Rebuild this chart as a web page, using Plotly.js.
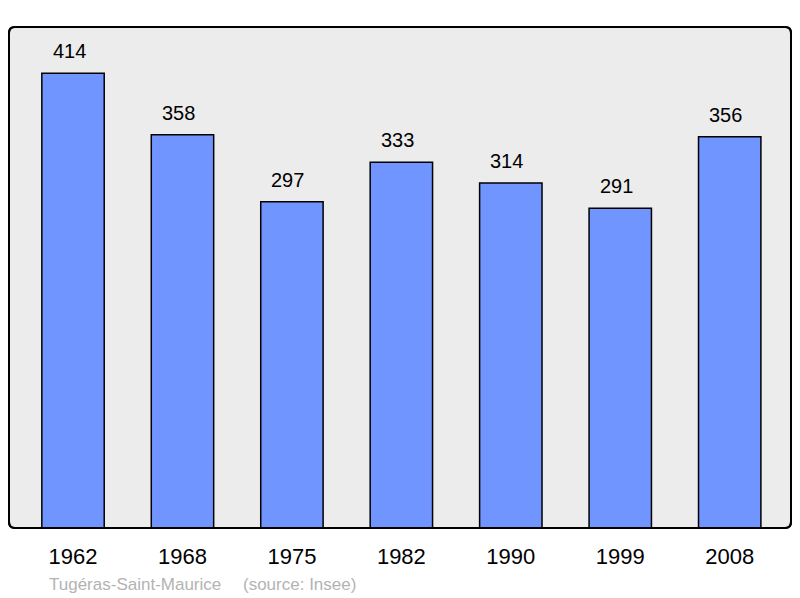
<!DOCTYPE html>
<html>
<head>
<meta charset="utf-8">
<script src="https://cdn.plot.ly/plotly-3.0.1.min.js"></script>
<style>html,body{margin:0;padding:0;background:#fff;}#chart{width:800px;height:598px;}</style>
</head>
<body>
<div id="chart"></div>
<script>
const years = ["1962", "1968", "1975", "1982", "1990", "1999", "2008"];
const population = [414, 358, 297, 333, 314, 291, 356];
const commune = "Tugéras-Saint-Maurice";
const source = "(source: Insee)";

const trace = {
  type: "bar",
  x: years,
  y: population,
  width: 0.57,
  marker: {color: "#7195ff", line: {color: "#000", width: 1.5}},
  hoverinfo: "none"
};

const valueLabels = years.map((yr, i) => ({
  x: i, y: population[i], xref: "x", yref: "y",
  text: String(population[i]), showarrow: false,
  yanchor: "bottom", yshift: 9, xshift: -4,
  font: {family: "Liberation Sans, Arial, sans-serif", size: 20, color: "#000"}
}));

const r = 6, W = 782, H = 501;
const rx = r / W, ry = r / H;
const borderPath = `M ${rx} 0 L ${1 - rx} 0 Q 1 0 1 ${ry} L 1 ${1 - ry} Q 1 1 ${1 - rx} 1 L ${rx} 1 Q 0 1 0 ${1 - ry} L 0 ${ry} Q 0 0 ${rx} 0 Z`;

const layout = {
  width: 800, height: 598,
  margin: {l: 9, r: 9, t: 27, b: 70},
  paper_bgcolor: "#fff",
  plot_bgcolor: "rgba(0,0,0,0)",
  showlegend: false,
  xaxis: {
    type: "category", range: [-0.585, 6.56],
    showgrid: false, zeroline: false, showline: false, ticks: "",
    tickfont: {family: "Liberation Sans, Arial, sans-serif", size: 22, color: "#000"},
    ticklabelstandoff: 13, fixedrange: true
  },
  yaxis: {
    range: [0, 456], showgrid: false, zeroline: false, showline: false,
    showticklabels: false, ticks: "", fixedrange: true
  },
  shapes: [{
    type: "path", xref: "paper", yref: "paper", path: borderPath,
    fillcolor: "#ececec", line: {color: "#000", width: 2}, layer: "below"
  }, {
    type: "path", xref: "paper", yref: "paper", path: borderPath,
    fillcolor: "rgba(0,0,0,0)", line: {color: "#000", width: 2}, layer: "above"
  }],
  annotations: valueLabels.concat([
    {x: 47, y: 584, xref: "paper", yref: "paper", text: commune, showarrow: false,
     xanchor: "left", yanchor: "middle",
     font: {family: "Liberation Sans, Arial, sans-serif", size: 17, color: "#b3b3b3"}},
    {x: 241, y: 584, xref: "paper", yref: "paper", text: source, showarrow: false,
     xanchor: "left", yanchor: "middle",
     font: {family: "Liberation Sans, Arial, sans-serif", size: 17, color: "#b3b3b3"}}
  ])
};
layout.annotations.forEach(a => {
  if (a.xref === "paper") {
    a.x = (a.x - 9) / W;
    a.y = (598 - 70 - a.y) / H;
  }
});

Plotly.newPlot("chart", [trace], layout, {staticPlot: true, displayModeBar: false});
</script>
</body>
</html>
